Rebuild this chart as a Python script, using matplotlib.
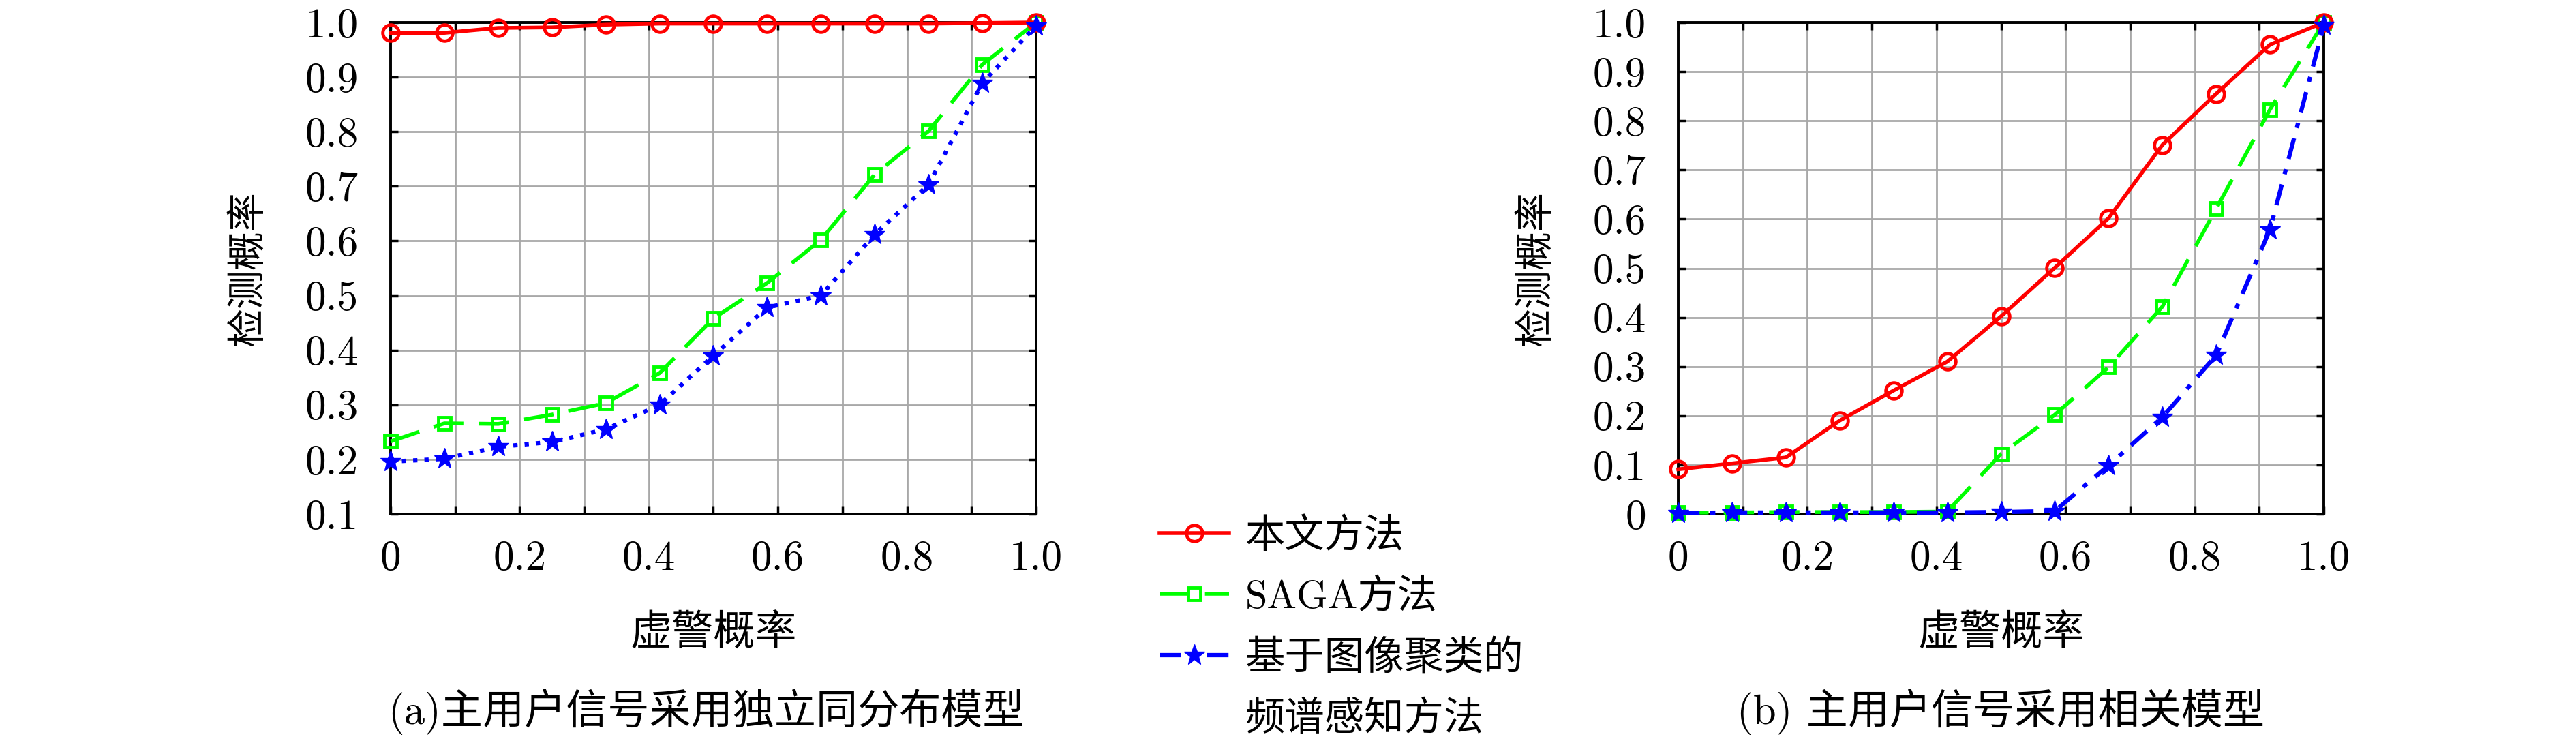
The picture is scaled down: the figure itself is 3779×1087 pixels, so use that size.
import matplotlib
matplotlib.use("Agg")
import matplotlib.pyplot as plt
from matplotlib.lines import Line2D

plt.rcParams['font.family'] = ['cmr10', 'Noto Sans CJK SC']
plt.rcParams['axes.formatter.use_mathtext'] = True

# false-alarm probability (x) shared by every curve
x_pf = [0, 0.0833, 0.1667, 0.25, 0.3333, 0.4167, 0.5,
        0.5833, 0.6667, 0.75, 0.8333, 0.9167, 1.0]

# (a) i.i.d. primary-user signal
a_ours = [0.981, 0.981, 0.990, 0.991, 0.996, 0.998, 0.998,
          0.998, 0.998, 0.998, 0.998, 0.999, 1.0]
a_saga = [0.233, 0.266, 0.265, 0.282, 0.303, 0.358, 0.458,
          0.523, 0.602, 0.722, 0.801, 0.923, 1.0]
a_img = [0.196, 0.201, 0.223, 0.232, 0.255, 0.300, 0.390,
         0.478, 0.500, 0.612, 0.703, 0.889, 0.994]

# (b) correlated primary-user signal
b_ours = [0.091, 0.103, 0.115, 0.190, 0.251, 0.310, 0.402,
          0.501, 0.602, 0.751, 0.855, 0.955, 1.0]
b_saga = [0.003, 0.003, 0.004, 0.004, 0.004, 0.005, 0.122,
          0.202, 0.299, 0.422, 0.621, 0.823, 1.0]
b_img = [0.002, 0.003, 0.003, 0.003, 0.003, 0.003, 0.004,
         0.006, 0.099, 0.197, 0.323, 0.579, 0.994]

x_ticks = [0, 0.1, 0.2, 0.3, 0.4, 0.5, 0.6, 0.7, 0.8, 0.9, 1.0]
x_labels = ['0', '', '0.2', '', '0.4', '', '0.6', '', '0.8', '', '1.0']
a_yticks = [0.1, 0.2, 0.3, 0.4, 0.5, 0.6, 0.7, 0.8, 0.9, 1.0]
a_ylabels = ['0.1', '0.2', '0.3', '0.4', '0.5', '0.6', '0.7', '0.8', '0.9', '1.0']
b_yticks = [0, 0.1, 0.2, 0.3, 0.4, 0.5, 0.6, 0.7, 0.8, 0.9, 1.0]
b_ylabels = ['0', '0.1', '0.2', '0.3', '0.4', '0.5', '0.6', '0.7', '0.8', '0.9', '1.0']

legend_labels = ['本文方法', 'SAGA方法', '基于图像聚类的', '频谱感知方法']
captions = ['(a)主用户信号采用独立同分布模型', '(b) 主用户信号采用相关模型']

W, H = 3780, 1087
fig = plt.figure(figsize=(W / 100, H / 100), dpi=100)
ax1 = fig.add_axes([573 / W, 1 - 754 / H, 947 / W, 721 / H])
ax2 = fig.add_axes([2462 / W, 1 - 754 / H, 947 / W, 721 / H])

red_kw = dict(color='red', lw=4, marker='o', ms=17, mfc='none', mew=3.5, clip_on=False, zorder=5)
green_kw = dict(color='lime', lw=4, marker='s', ms=13, mfc='none', mew=3.5,
                dashes=(8, 4), clip_on=False, zorder=4)
blue_kw = dict(color='blue', lw=4.5, marker='*', ms=23, mec='blue', clip_on=False, zorder=6)

ax1.plot(x_pf, a_ours, **red_kw)
ax1.plot(x_pf, a_saga, **green_kw)
ax1.plot(x_pf, a_img, ls=':', **blue_kw)

l1, = ax2.plot(x_pf, b_ours, **red_kw)
l2, = ax2.plot(x_pf, b_saga, **green_kw)
l3, = ax2.plot(x_pf, b_img, dashes=(5, 2.5, 1.2, 2.5), **blue_kw)

for ax, yt, yl, ymin in [(ax1, a_yticks, a_ylabels, 0.1), (ax2, b_yticks, b_ylabels, 0.0)]:
    ax.set_xlim(0, 1)
    ax.set_ylim(ymin, 1.0)
    ax.set_xticks(x_ticks)
    ax.set_xticklabels(x_labels)
    ax.set_yticks(yt)
    ax.set_yticklabels(yl)
    ax.grid(True, color='#a8a8a8', lw=2)
    ax.set_axisbelow(True)
    for s in ax.spines.values():
        s.set_linewidth(2.8)
    ax.tick_params(direction='in', length=8, width=2.5, top=True, right=True,
                   labelsize=44)
    ax.tick_params(axis='x', pad=28)
    ax.tick_params(axis='y', pad=34)
    ax.set_xlabel('虚警概率', fontsize=44)
    ax.xaxis.label.set_va('center')
    ax.xaxis.set_label_coords(0.5, -(930 - 754) / 721)
    ax.set_ylabel('检测概率', fontsize=41)
    ax.yaxis.label.set_va('center')
    ax.yaxis.set_label_coords(-(573 - 364) / 947, 0.5)

ax1.text(0.489, -(1044 - 754) / 721, captions[0], transform=ax1.transAxes,
         ha='center', va='center', fontsize=44)
ax2.text(0.5, -(1044 - 754) / 721, captions[1], transform=ax2.transAxes,
         ha='center', va='center', fontsize=44)

blank = Line2D([], [], ls='none', marker='none')
fig.legend([l1, l2, l3, blank], legend_labels, loc='upper left',
           bbox_to_anchor=(1701 / W, 1 - 759 / H), frameon=False, fontsize=42,
           handlelength=1.75, handletextpad=0.4, labelspacing=0.6,
           borderpad=0, borderaxespad=0)

fig.savefig('out.png', dpi=100, facecolor='white')
